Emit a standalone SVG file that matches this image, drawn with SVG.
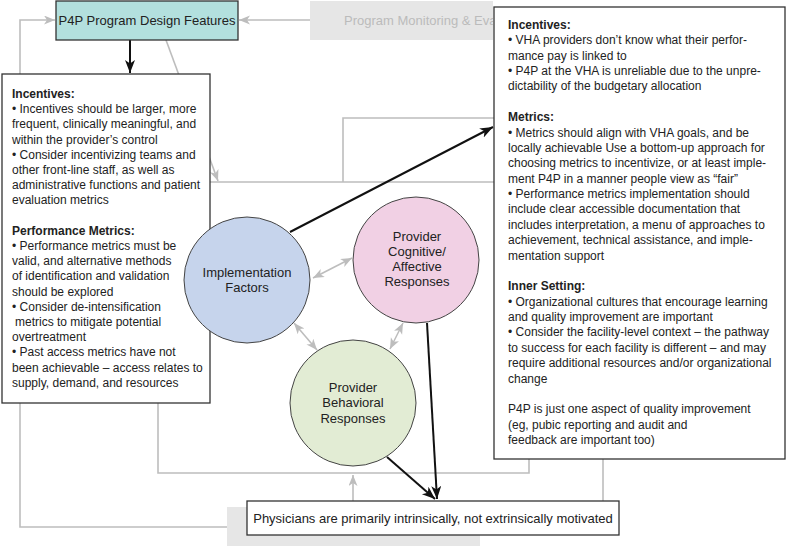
<svg xmlns="http://www.w3.org/2000/svg" width="787" height="548" viewBox="0 0 787 548">
<defs>
<style>
.t{font-family:"Liberation Sans",Arial,Helvetica,sans-serif;font-size:12px;fill:#222}
.b{font-weight:bold}
.ti{font-family:"Liberation Sans",Arial,Helvetica,sans-serif;font-size:13px;fill:#222}
.g{fill:none;stroke:#bdbdbd;stroke-width:1.6}
.k{fill:none;stroke:#111;stroke-width:2}
.box{fill:#fff;stroke:#333;stroke-width:1.3}
.gbox{fill:#e6e6e6;stroke:none}
.circ{stroke:#444;stroke-width:1}
</style>
<clipPath id="monclip"><rect x="300" y="0" width="193" height="45"/></clipPath>
<marker id="ka" markerUnits="userSpaceOnUse" markerWidth="14" markerHeight="12" refX="13" refY="5" orient="auto">
<path d="M0,0 L13,5 L0,10 L3.5,5 z" fill="#111"/>
</marker>
<marker id="ga" markerUnits="userSpaceOnUse" markerWidth="12" markerHeight="10" refX="11" refY="4.5" orient="auto-start-reverse">
<path d="M0,0 L11,4.5 L0,9 L3,4.5 z" fill="#bdbdbd"/>
</marker>
</defs>
<rect width="787" height="548" fill="#fff"/>

<g id="connectors">
<path class="g" d="M227,527 H20 V20 H55" marker-end="url(#ga)"/>
<path class="g" d="M310,20 H239" marker-end="url(#ga)"/>
<path class="g" d="M166,40 L218,181" marker-end="url(#ga)"/>
<path class="g" d="M494,182 H158 V473 H529 V459"/>
<path class="g" d="M343,182 V118 H494"/>
<path class="g" d="M603,459 V501"/>
<path class="g" d="M353,501 V475" marker-end="url(#ga)"/>
<path class="g" d="M313,278 L352,258" marker-start="url(#ga)" marker-end="url(#ga)"/>
<path class="g" d="M294,323 L317,350" marker-start="url(#ga)" marker-end="url(#ga)"/>
<path class="g" d="M403,323 L390,349" marker-start="url(#ga)" marker-end="url(#ga)"/>
<path class="k" d="M130,40 V73" marker-end="url(#ka)"/>
<path class="k" d="M290,232 L493,127" marker-end="url(#ka)"/>
<path class="k" d="M427,323 L437,499" marker-end="url(#ka)"/>
<path class="k" d="M387,457 L435,499" marker-end="url(#ka)"/>
</g>

<g id="monitoring" clip-path="url(#monclip)">
<rect class="gbox" x="310" y="1" width="300" height="39"/>
<text class="ti" x="344" y="24.5" style="fill:#bbb">Program Monitoring &amp; Eva</text>
</g>

<g id="design">
<rect x="56" y="1" width="182" height="39" fill="#b3e0de" stroke="#333" stroke-width="1.3"/>
<text class="ti" x="147" y="24.5" text-anchor="middle">P4P Program Design Features</text>
</g>

<g id="bottomgray">
<rect class="gbox" x="227" y="507" width="253" height="39"/>
</g>

<g id="physicians">
<rect class="box" x="247" y="501" width="372" height="34"/>
<text class="ti" x="433" y="522.5" text-anchor="middle">Physicians are primarily intrinsically, not extrinsically motivated</text>
</g>

<g id="leftbox">
<rect class="box" x="2" y="74" width="208" height="329"/>
<text class="t" x="12" y="98">
<tspan x="12" class="b">Incentives:</tspan>
<tspan x="12" dy="15.2">• Incentives should be larger, more</tspan>
<tspan x="12" dy="15.2">frequent, clinically meaningful, and</tspan>
<tspan x="12" dy="15.2">within the provider’s control</tspan>
<tspan x="12" dy="15.2">• Consider incentivizing teams and</tspan>
<tspan x="12" dy="15.2">other front-line staff, as well as</tspan>
<tspan x="12" dy="15.2">administrative functions and patient</tspan>
<tspan x="12" dy="15.2">evaluation metrics</tspan>
<tspan x="12" dy="30.4" class="b">Performance Metrics:</tspan>
<tspan x="12" dy="15.2">• Performance metrics must be</tspan>
<tspan x="12" dy="15.2">valid, and alternative methods</tspan>
<tspan x="12" dy="15.2">of identification and validation</tspan>
<tspan x="12" dy="15.2">should be explored</tspan>
<tspan x="12" dy="15.2">• Consider de-intensification</tspan>
<tspan x="15" dy="15.2">metrics to mitigate potential</tspan>
<tspan x="12" dy="15.2">overtreatment</tspan>
<tspan x="12" dy="15.2">• Past access metrics have not</tspan>
<tspan x="12" dy="15.2">been achievable – access relates to</tspan>
<tspan x="12" dy="15.2">supply, demand, and resources</tspan>
</text>
</g>

<g id="rightbox">
<rect class="box" x="494" y="7" width="291" height="452"/>
<text class="t" x="508" y="29">
<tspan x="508" class="b">Incentives:</tspan>
<tspan x="508" dy="15.37">• VHA providers don’t know what their perfor-</tspan>
<tspan x="508" dy="15.37">mance pay is linked to</tspan>
<tspan x="508" dy="15.37">• P4P at the VHA is unreliable due to the unpre-</tspan>
<tspan x="508" dy="15.37">dictability of the budgetary allocation</tspan>
<tspan x="508" dy="30.74" class="b">Metrics:</tspan>
<tspan x="508" dy="15.37">• Metrics should align with VHA goals, and be</tspan>
<tspan x="508" dy="15.37">locally achievable Use a bottom-up approach for</tspan>
<tspan x="508" dy="15.37">choosing metrics to incentivize, or at least imple-</tspan>
<tspan x="508" dy="15.37">ment P4P in a manner people view as “fair”</tspan>
<tspan x="508" dy="15.37">• Performance metrics implementation should</tspan>
<tspan x="508" dy="15.37">include clear accessible documentation that</tspan>
<tspan x="508" dy="15.37">includes interpretation, a menu of approaches to</tspan>
<tspan x="508" dy="15.37">achievement, technical assistance, and imple-</tspan>
<tspan x="508" dy="15.37">mentation support</tspan>
<tspan x="508" dy="30.74" class="b">Inner Setting:</tspan>
<tspan x="508" dy="15.37">• Organizational cultures that encourage learning</tspan>
<tspan x="508" dy="15.37">and quality improvement are important</tspan>
<tspan x="508" dy="15.37">• Consider the facility-level context – the pathway</tspan>
<tspan x="508" dy="15.37">to success for each facility is different – and may</tspan>
<tspan x="508" dy="15.37">require additional resources and/or organizational</tspan>
<tspan x="508" dy="15.37">change</tspan>
<tspan x="508" dy="30.74">P4P is just one aspect of quality improvement</tspan>
<tspan x="508" dy="15.37">(eg, pubic reporting and audit and</tspan>
<tspan x="508" dy="15.37">feedback are important too)</tspan>
</text>
</g>

<g id="implementation">
<circle class="circ" cx="247" cy="280" r="63" fill="#c6d4ec"/>
<text class="ti" x="247" y="276.5" text-anchor="middle">Implementation</text>
<text class="ti" x="247" y="291.5" text-anchor="middle">Factors</text>
</g>

<g id="cognitive">
<circle class="circ" cx="416" cy="260" r="63" fill="#f1d0e4"/>
<text class="ti" x="417" y="240.5" text-anchor="middle">Provider</text>
<text class="ti" x="417" y="255.7" text-anchor="middle">Cognitive/</text>
<text class="ti" x="417" y="271" text-anchor="middle">Affective</text>
<text class="ti" x="417" y="286.3" text-anchor="middle">Responses</text>
</g>

<g id="behavioral">
<circle class="circ" cx="353" cy="403" r="63" fill="#e2ecd4"/>
<text class="ti" x="353" y="391.5" text-anchor="middle">Provider</text>
<text class="ti" x="353" y="407" text-anchor="middle">Behavioral</text>
<text class="ti" x="353" y="422.5" text-anchor="middle">Responses</text>
</g>
</svg>
